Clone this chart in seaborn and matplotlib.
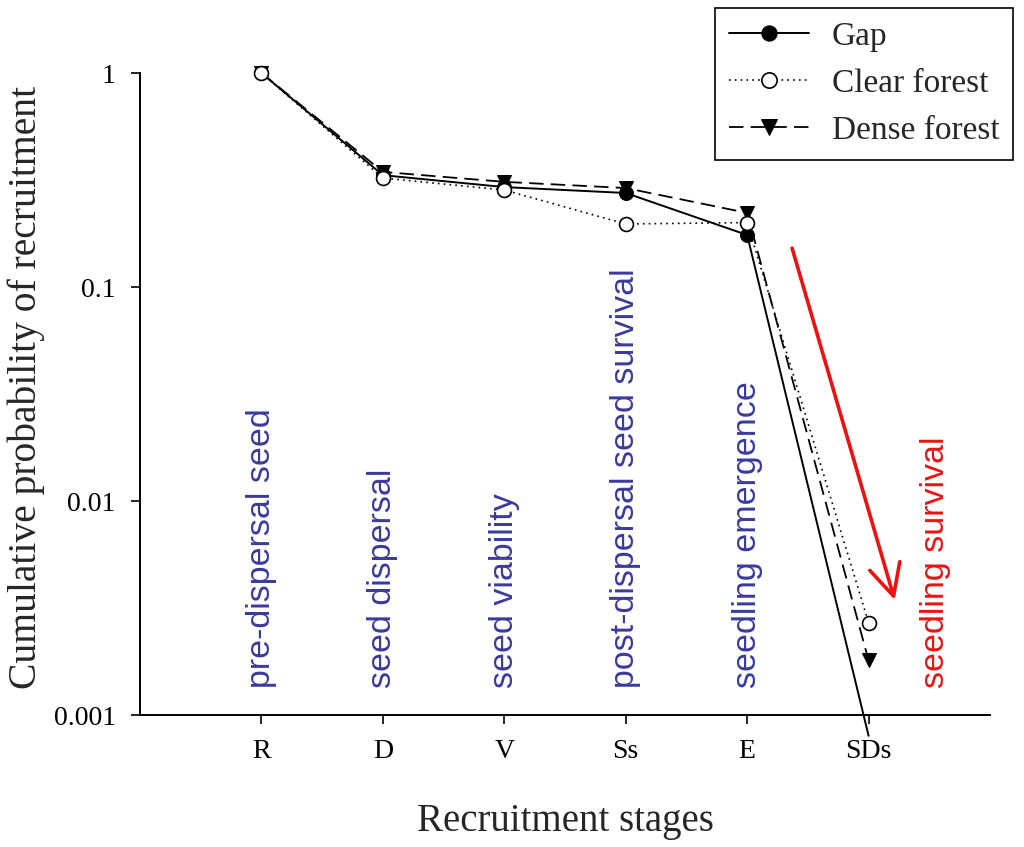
import numpy as np
import pandas as pd
import matplotlib
matplotlib.use("Agg")
import matplotlib.pyplot as plt
import seaborn as sns

stages = ["R", "D", "V", "Ss", "E", "SDs"]
stage_names = ["pre-dispersal seed", "seed dispersal", "seed viability",
               "post-dispersal seed survival", "seedling emergence"]
gap = [1.0, 0.333, 0.293, 0.275, 0.175, 0.0008]
clear_forest = [1.0, 0.323, 0.284, 0.197, 0.200, 0.0027]
dense_forest = [1.0, 0.345, 0.310, 0.290, 0.222, 0.0018]

sns.set_style("ticks")
plt.rcParams["font.family"] = ["Liberation Serif", "DejaVu Serif"]

fig = plt.figure(figsize=(10.24, 8.47), dpi=100)
ax = fig.add_axes([140 / 1024, 1 - 715 / 847, 850 / 1024, 642 / 847])

pos = np.arange(1, len(stages) + 1)
df = pd.DataFrame({"pos": pos, "Gap": gap, "Clear forest": clear_forest,
                   "Dense forest": dense_forest})

sns.lineplot(data=df, x="pos", y="Gap", ax=ax, color="black", lw=1.4,
             linestyle="-", marker="o", markersize=10, markeredgecolor="black",
             markevery=[0, 1, 2, 3, 4], clip_on=False, label="Gap", zorder=3)
sns.lineplot(data=df, x="pos", y="Clear forest", ax=ax, color="black", lw=1.2,
             linestyle=(0, (1, 2.5)), marker="o", markersize=10,
             markerfacecolor="white", markeredgecolor="black",
             markeredgewidth=1.2, clip_on=False, label="Clear forest", zorder=4)
sns.lineplot(data=df, x="pos", y="Dense forest", ax=ax, color="black", lw=1.3,
             linestyle=(0, (8, 4)), marker="v", markersize=10,
             markeredgecolor="black", clip_on=False, label="Dense forest", zorder=2)

ax.set_yscale("log")
ax.set_ylim(0.001, 1)
ax.set_xlim(0, 7)
ax.set_xticks(pos)
ax.set_xticklabels(stages)
ax.set_yticks([0.001, 0.01, 0.1, 1])
ax.set_yticklabels(["0.001", "0.01", "0.1", "1"])
ax.minorticks_off()
ax.tick_params(axis="both", labelsize=20, direction="out", length=6.5, width=1.2,
               colors="black", pad=11)
for s in ["top", "right"]:
    ax.spines[s].set_visible(False)
for s in ["left", "bottom"]:
    ax.spines[s].set_linewidth(1.4)
    ax.spines[s].set_color("black")

ax.set_xlabel("Recruitment stages", fontsize=28, labelpad=28)
ax.set_ylabel("Cumulative probability of recruitment", fontsize=28.5)
ax.yaxis.set_label_coords(-0.112, 0.51)

blue = "#3a3a9c"
for i, name in enumerate(stage_names):
    ax.text(pos[i], 0.00134, name, rotation=90, ha="center", va="bottom",
            color=blue, fontsize=24.5, family=["Liberation Sans", "DejaVu Sans"])

ax.text(6.55, 0.00134, "seedling survival", rotation=90, ha="center",
        va="bottom", color="#ee1111", fontsize=24.5,
        family=["Liberation Sans", "DejaVu Sans"])
ax.annotate("", xy=(6.215, 0.00345), xytext=(5.37, 0.152),
            arrowprops=dict(arrowstyle="->,head_length=0.9,head_width=0.45",
                            color="#ee1111", lw=2.6, mutation_scale=25,
                            shrinkA=0, shrinkB=0))

leg = ax.legend(loc="upper right", bbox_to_anchor=(1013 / 1024, 1 - 8 / 847),
                bbox_transform=fig.transFigure, fontsize=24, frameon=True,
                fancybox=False, framealpha=1, edgecolor="black",
                handlelength=2.4, labelspacing=0.5, borderpad=0.4,
                handletextpad=0.7, borderaxespad=0, markerscale=1.1)
leg.get_frame().set_linewidth(1.2)

fig.savefig("out.png", dpi=100)
